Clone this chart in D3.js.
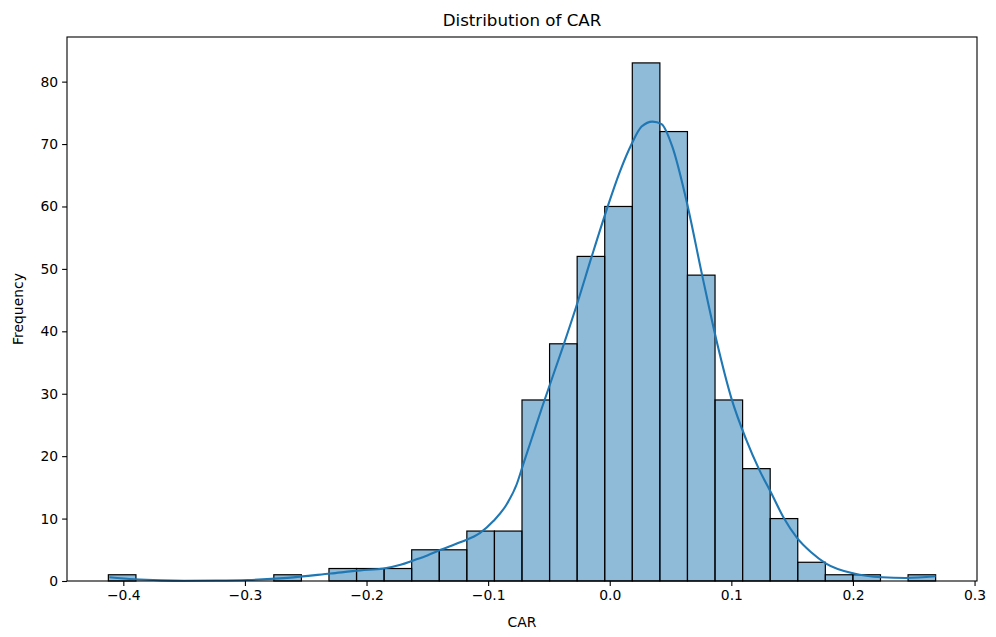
<!DOCTYPE html>
<html>
<head>
<meta charset="utf-8">
<script src="https://cdn.jsdelivr.net/npm/d3@7"></script>
<style>
  body { margin: 0; background: #fff; }
  svg { display: block; font-family: "DejaVu Sans", sans-serif; }
</style>
</head>
<body>
<svg id="chart" width="996" height="637"></svg>
<script>
// Histogram: 30 bins between binStart and binEnd
const binStart = -0.4123;
const binEnd = 0.268;
const counts = [1,0,0,0,0,0,1,0,2,2,2,5,5,8,8,29,38,52,60,83,72,49,29,18,10,3,1,1,0,1];

// KDE curve
const kdeX = [-0.4115,-0.391,-0.369,-0.35,-0.324,-0.2975,-0.265,-0.2295,-0.205,-0.186,-0.172,-0.1615,-0.15,-0.139,-0.123,-0.1066,-0.0957,-0.0847,-0.0765,-0.0713,-0.063,-0.055,-0.0385,-0.027,-0.0148,-0.0025,0.0082,0.018,0.0262,0.0352,0.0426,0.0516,0.063,0.0762,0.0877,0.1,0.1123,0.123,0.1328,0.1434,0.154,0.1656,0.1779,0.2008,0.2238,0.2434,0.268];
const kdeY = [0.6,0.27,0.1,0.05,0.07,0.16,0.5,1.2,1.7,2.0,2.6,3.3,4.1,5.0,6.2,7.7,9.6,12.3,15.5,18.6,23.5,28.2,37.5,44.3,52,59.5,65.5,70,72.8,73.6,73.2,69.5,61,48.8,38.6,29.3,22.6,17.8,14.1,10.0,6.9,4.6,2.8,1.2,0.6,0.48,0.75];

const xTicks = [-0.4,-0.3,-0.2,-0.1,0.0,0.1,0.2,0.3];
const yTicks = [0,10,20,30,40,50,60,70,80];

const title = "Distribution of CAR";
const xLabel = "CAR";
const yLabel = "Frequency";

const L = 67, R = 977, T = 37, B = 581;
const svg = d3.select("#chart");

const span = binEnd - binStart;
const x = d3.scaleLinear().domain([binStart - span*0.05, binEnd + span*0.05]).range([L, R]);
const maxC = d3.max(counts);
const y = d3.scaleLinear().domain([0, maxC*1.05]).range([B, T]);

const bw = span / counts.length;
const bins = counts.map((c, i) => ({x0: binStart + i*bw, x1: binStart + (i+1)*bw, c}));

svg.append("g").selectAll("rect").data(bins).join("rect")
  .attr("x", d => x(d.x0))
  .attr("y", d => y(d.c))
  .attr("width", d => x(d.x1) - x(d.x0))
  .attr("height", d => y(0) - y(d.c))
  .attr("fill", "rgba(31,119,180,0.5)")
  .attr("stroke", "#000")
  .attr("stroke-width", 1.2);

const kde = kdeX.map((v, i) => [v, kdeY[i]]);
svg.append("path")
  .datum(kde)
  .attr("fill", "none")
  .attr("stroke", "#1f77b4")
  .attr("stroke-width", 2.1)
  .attr("d", d3.line().x(d => x(d[0])).y(d => y(d[1])).curve(d3.curveMonotoneX));

// frame
svg.append("rect").attr("x", L).attr("y", T).attr("width", R-L).attr("height", B-T)
  .attr("fill", "none").attr("stroke", "#000").attr("stroke-width", 1.1);

const fmt = v => d3.format(".1f")(v).replace("-", "\u2212");

const xAxis = svg.append("g").attr("transform", `translate(0,${B})`)
  .call(d3.axisBottom(x).tickValues(xTicks).tickFormat(fmt).tickSize(4.9).tickPadding(4));
const yAxis = svg.append("g").attr("transform", `translate(${L},0)`)
  .call(d3.axisLeft(y).tickValues(yTicks).tickFormat(d3.format("d")).tickSize(4.9).tickPadding(4));
[xAxis, yAxis].forEach(a => {
  a.select(".domain").remove();
  a.selectAll("line").attr("stroke", "#000").attr("stroke-width", 1.1);
  a.selectAll("text").attr("fill", "#000").style("font-size", "13.9px").style("font-family", "DejaVu Sans, sans-serif");
});

svg.append("text").attr("x", (L+R)/2).attr("y", 26).attr("text-anchor", "middle")
  .style("font-size", "16.7px").attr("fill", "#000").text(title);
svg.append("text").attr("x", (L+R)/2).attr("y", 627).attr("text-anchor", "middle")
  .style("font-size", "13.9px").attr("fill", "#000").text(xLabel);
svg.append("text").attr("transform", `translate(23,${(T+B)/2}) rotate(-90)`).attr("text-anchor", "middle")
  .style("font-size", "13.9px").attr("fill", "#000").text(yLabel);
</script>
</body>
</html>
